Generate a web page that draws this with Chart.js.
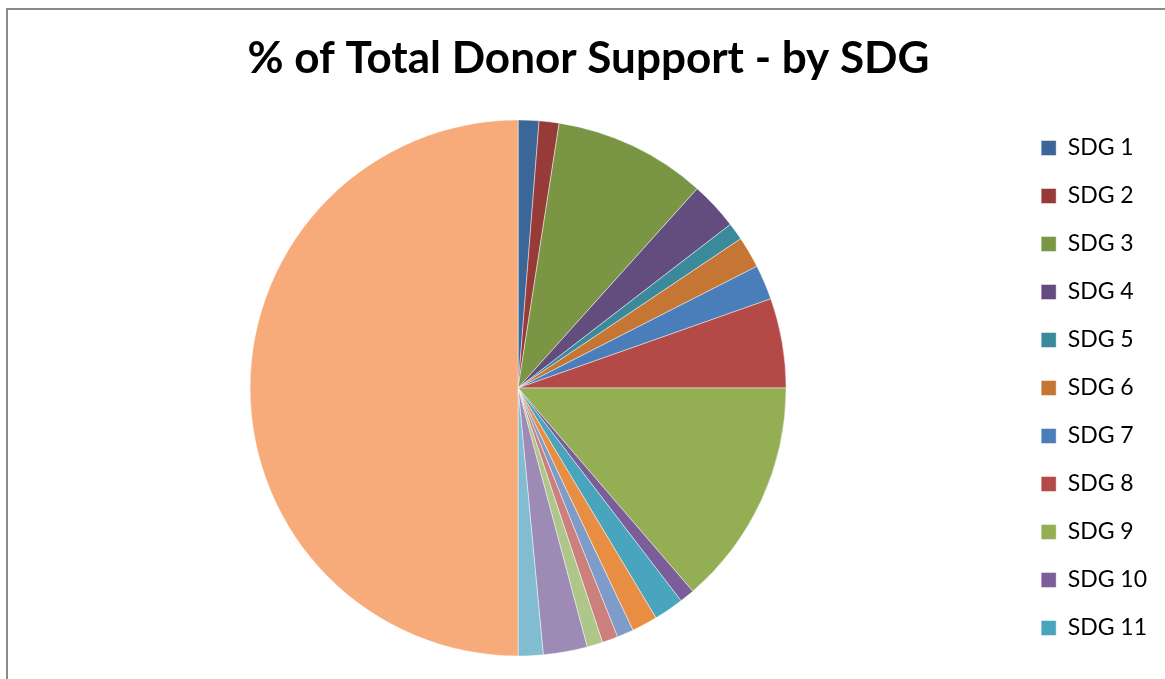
<!DOCTYPE html>
<html>
<head>
<meta charset="utf-8">
<title>% of Total Donor Support - by SDG</title>
<script src="https://cdn.jsdelivr.net/npm/chart.js@4.4.1/dist/chart.umd.min.js"></script>
<style>
  html, body { margin: 0; padding: 0; background: #fff; overflow: hidden; }
  #frame {
    position: absolute; left: 6px; top: 8px; width: 1200px; height: 700px;
    border-left: 2px solid #8a8a8a; border-top: 2px solid #8a8a8a;
  }
  #wrap { position: absolute; left: 0; top: 0; width: 1165px; height: 679px; }
</style>
</head>
<body>
<div id="frame"></div>
<div id="wrap"><canvas id="pie" width="1165" height="679"></canvas></div>
<script>
// categories (legend only has room for the first 11)
const labels = [
  "SDG 1", "SDG 2", "SDG 3", "SDG 4", "SDG 5", "SDG 6",
  "SDG 7", "SDG 8", "SDG 9", "SDG 10", "SDG 11", "SDG 12",
  "SDG 13", "SDG 14", "SDG 15", "SDG 16", "SDG 17", "Other",
];
// share of total donor support, %
const shares = [
  1.25, 1.2, 9.2, 2.9, 1.05, 1.9,
  2.1, 5.4, 13.7, 0.9, 1.8, 1.55,
  1.0, 0.95, 0.95, 2.65, 1.5, 50.0,
];
// slice colours: dark, base and light variants of the office palette
const sliceColors = [
  "#3c6598", "#973b39", "#7a9544", "#634d7f", "#3a8a9c", "#c57635",
  "#4a7ebb", "#b34a47", "#93ae53", "#7a5d99", "#49a4bd", "#e88e43",
  "#7f9cc9", "#cb807e", "#afc68a", "#9d8bb6", "#81bcd0", "#f8ab7a",
];
const legendCount = 11;

const chart = new Chart(document.getElementById("pie"), {
  type: "pie",
  data: {
    labels: labels,
    datasets: [
      {
        data: shares,
        backgroundColor: sliceColors,
        borderColor: "rgba(255,255,255,0.45)",
        borderWidth: 1,
        radius: 268,
        hoverOffset: 0,
      },
    ],
  },
  options: {
    responsive: false,
    animation: false,
    layout: { padding: { left: 20, right: 8, top: 0, bottom: 13 } },
    plugins: {
      tooltip: { enabled: false },
      title: {
        display: true,
        text: "% of Total Donor Support - by SDG",
        color: "#000",
        font: { family: "Lato", size: 44, weight: "bold" },
        padding: { top: 32, bottom: 25.2 },
      },
      legend: {
        position: "right",
        align: "center",
        fullSize: false,
        labels: {
          color: "#000",
          font: { family: "Lato", size: 23 },
          boxWidth: 15,
          boxHeight: 15,
          padding: 25,
          filter: (item) => item.index < legendCount,
        },
      },
    },
  },
});
</script>
</body>
</html>
